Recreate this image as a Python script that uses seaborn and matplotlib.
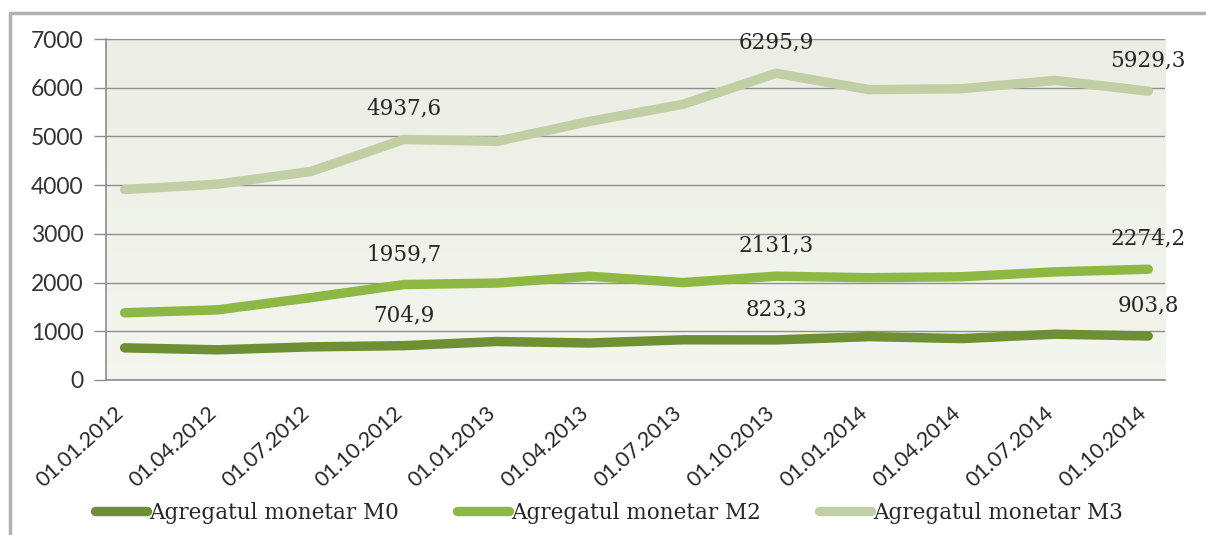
import matplotlib
matplotlib.use('Agg')
import matplotlib.pyplot as plt
from matplotlib.lines import Line2D
import matplotlib.transforms as mtransforms
import numpy as np
import pandas as pd
import seaborn as sns

# date de pe axa X
dates = ['01.01.2012', '01.04.2012', '01.07.2012', '01.10.2012',
         '01.01.2013', '01.04.2013', '01.07.2013', '01.10.2013',
         '01.01.2014', '01.04.2014', '01.07.2014', '01.10.2014']

# valorile agregatelor monetare
m0 = [660, 620, 680, 704.9, 790, 760, 825, 823.3, 890, 850, 940, 903.8]
m2 = [1380, 1440, 1690, 1959.7, 1990, 2130, 2000, 2131.3, 2100, 2120, 2220, 2274.2]
m3 = [3910, 4020, 4280, 4937.6, 4900, 5310, 5660, 6295.9, 5960, 5980, 6150, 5929.3]

series_names = ['Agregatul monetar M0', 'Agregatul monetar M2', 'Agregatul monetar M3']
labelled_idx = [3, 7, 11]  # puncte cu etichete

colors = ['#6f8f35', '#8db843', '#c2cea3']

df = pd.concat([
    pd.DataFrame({'pos': np.arange(len(dates)), 'value': vals, 'series': name})
    for name, vals in zip(series_names, [m0, m2, m3])
], ignore_index=True)

sns.set_style('white')
plt.rcParams['font.family'] = ['Lato', 'DejaVu Sans']

fig = plt.figure(figsize=(12.06, 5.35), dpi=100)
ax = fig.add_axes([106 / 1206, 1 - 380 / 535, (1165 - 106) / 1206, (380 - 39) / 535])

xmin, xmax = -0.2, 11.18
# fundal cu gradient
grad = np.linspace(0, 1, 100)[:, None]
top_c = np.array([0.925, 0.933, 0.898])
bot_c = np.array([0.955, 0.965, 0.935])
img = (top_c * (1 - grad) + bot_c * grad)[:, None, :]
img = np.repeat(img, 2, axis=1)
ax.imshow(img, extent=[xmin, xmax, 0, 7000], aspect='auto', zorder=0)

sns.lineplot(data=df, x='pos', y='value', hue='series', palette=colors,
             linewidth=6.8, ax=ax, legend=False, sort=False)
for ln in ax.lines:
    ln.set_solid_capstyle('round')
    ln.set_solid_joinstyle('round')
    ln.set_zorder(3)

# etichete de date
for vals in [m0, m2, m3]:
    for i in labelled_idx:
        v = vals[i]
        ax.annotate(f'{v:.1f}'.replace('.', ','), (i, v), xytext=(0, 22),
                    textcoords='offset points', ha='center', va='center',
                    fontsize=15.5, family='DejaVu Serif', color='#262626', zorder=4)

ax.set_xlim(xmin, xmax)
ax.set_ylim(0, 7000)
ax.set_yticks(range(0, 7001, 1000))
ax.yaxis.grid(True, color='#8f8f8f', lw=1.0)
ax.set_axisbelow(True)

ax.set_xticks(range(len(dates)))
ax.set_xticklabels(dates)
ax.set_xticks(np.arange(len(dates)) - 0.2, minor=True)
ax.tick_params(axis='x', which='major', length=0, pad=22, labelsize=15.5, labelcolor='#262626')
ax.tick_params(axis='x', which='minor', length=5, width=1, color='#8c8c8c', direction='out')
ax.tick_params(axis='y', length=9, width=1, color='#8c8c8c', labelsize=16.5,
               labelcolor='#333333', pad=7, left=True)
shift = mtransforms.ScaledTranslation(-4 / 100, 0, fig.dpi_scale_trans)
for lbl in ax.get_xticklabels():
    lbl.set_rotation(42)
    lbl.set_ha('right')
    lbl.set_va('center')
    lbl.set_rotation_mode('anchor')
    lbl.set_transform(lbl.get_transform() + shift)
ax.set_xlabel('')
ax.set_ylabel('')

for s in ['top', 'right']:
    ax.spines[s].set_visible(False)
for s in ['left', 'bottom']:
    ax.spines[s].set_color('#8c8c8c')
    ax.spines[s].set_linewidth(1.2)

# legenda
handles = [Line2D([0], [0], color=c, lw=6.8) for c in colors]
fig.legend(handles, series_names, loc='center', bbox_to_anchor=(0.505, 1 - 513 / 535),
           ncol=3, frameon=False, handlelength=2.4, handletextpad=0.1,
           columnspacing=2.7, prop={'family': 'DejaVu Serif', 'size': 15.5},
           labelcolor='#262626')

# chenarul graficului
fig.add_artist(Line2D([10 / 1206, 1], [1 - 13 / 535] * 2, transform=fig.transFigure,
                      color='#b0b0b0', lw=2.5))
fig.add_artist(Line2D([10 / 1206] * 2, [0, 1 - 13 / 535], transform=fig.transFigure,
                      color='#b0b0b0', lw=2.5))

fig.savefig('out.png', dpi=100, facecolor='white')
